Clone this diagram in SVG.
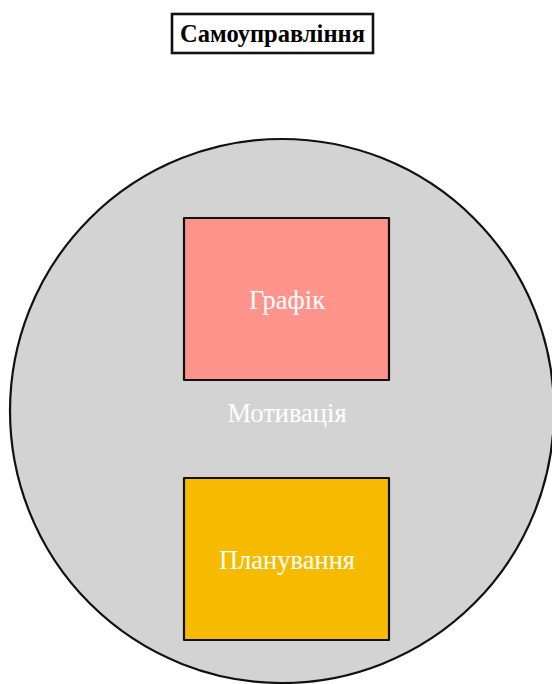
<svg xmlns="http://www.w3.org/2000/svg" width="552" height="684" viewBox="0 0 552 684">
<style>
.edge{stroke:#111;stroke-width:2.2;stroke-linejoin:round}
.lbl{font-family:"Liberation Serif","Times New Roman",serif;font-size:26.5px;fill:#ffffff;text-anchor:middle}
.title{font-family:"Liberation Serif","Times New Roman",serif;font-size:24.5px;font-weight:bold;fill:#000;text-anchor:middle}
</style>
<rect width="552" height="684" fill="#ffffff"/>
<g id="title">
<rect x="172" y="14" width="201" height="39" fill="#ffffff" stroke="#111" stroke-width="2.6"/>
<text x="272.5" y="42" class="title">Самоуправління</text>
</g>
<g id="motivation">
<circle cx="282" cy="411" r="272" fill="#d3d3d3" class="edge"/>
<text x="287" y="422" class="lbl">Мотивація</text>
</g>
<g id="schedule">
<rect x="184" y="218" width="205" height="162" fill="#ff948c" class="edge"/>
<text x="287" y="309" class="lbl">Графік</text>
</g>
<g id="planning">
<rect x="184" y="478" width="205" height="162" fill="#f6ba00" class="edge"/>
<text x="287" y="569" class="lbl">Планування</text>
</g>
<g id="connectors"></g>
</svg>
